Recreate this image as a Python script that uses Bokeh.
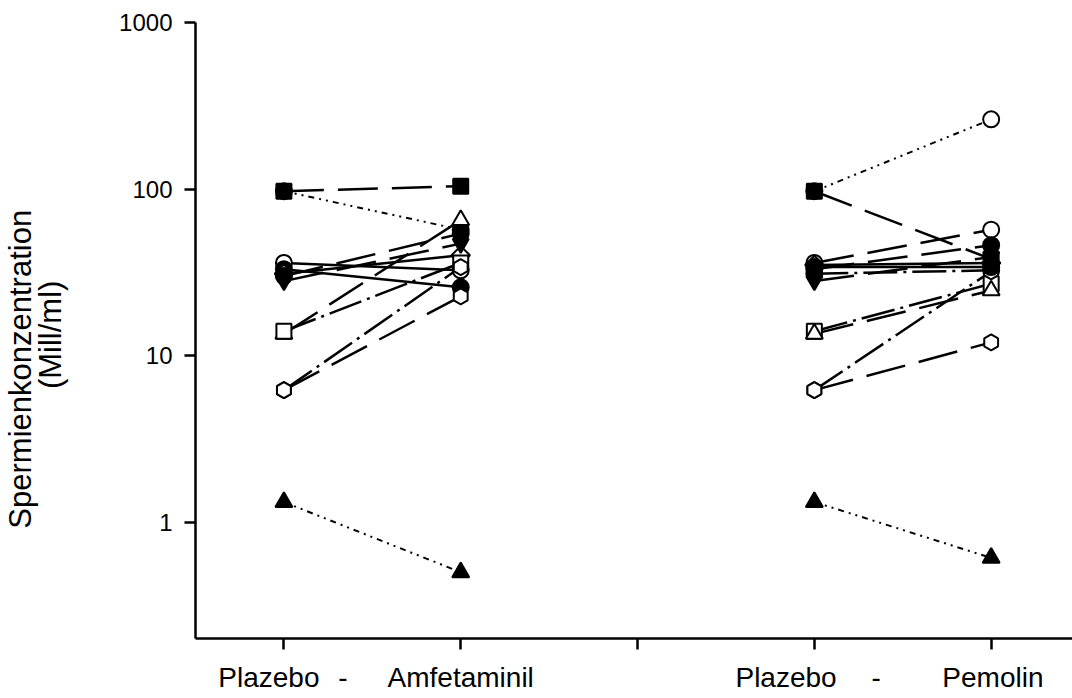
import math
from bokeh.plotting import figure
from bokeh.models import Range1d, FixedTicker, PrintfTickFormatter, LinearAxis
from bokeh.embed import file_html
from bokeh.resources import INLINE

# ---- data -----------------------------------------------------------
# Panel 1: Plazebo (x=1) vs Amfetaminil (x=2)
amf_plazebo = [97, 97, 36, 33, 31, 28, 30, 13.5, 14, 6.2, 6.2, 1.32]
amf_verum   = [104, 57, 32.5, 25.7, 40, 47, 54, 65, 36, 22.7, 34, 0.5]
amf_marker  = ["square", "circle", "circle", "circle", "diamond", "inverted_triangle",
               "circle", "triangle", "square", "hex", "hex", "triangle"]
amf_filled  = [True, True, False, True, False, True, True, False, False, False, False, True]
amf_style   = ["long", "dotted", "solid", "solid", "solid", "long",
               "long", "long", "dashdot", "long", "dashdot", "dotted"]

# Panel 2: Plazebo (x=4) vs Pemolin (x=5)
pem_plazebo = [97, 97, 36, 33, 35, 28, 31, 14, 13.5, 6.2, 6.2, 1.32, 34]
pem_verum   = [38, 262, 57, 46, 36, 39, 32.5, 27, 24.6, 12, 32, 0.61, 34]
pem_marker  = ["square", "circle", "circle", "circle", "diamond", "inverted_triangle",
               "circle", "square", "triangle", "hex", "hex", "triangle", "circle"]
pem_filled  = [True, False, False, True, False, True, True, False, False, False, False, True, True]
pem_style   = ["long", "dotted", "long", "long", "solid", "long",
               "dashdot", "dashdot", "long", "long", "dashdot", "dotted", "solid"]

group_x = [[1, 2], [4, 5]]
x_ticks = [1, 2, 3, 4, 5]
y_ticks = [1, 10, 100, 1000]
x_label_text = ["Plazebo", "-", "Amfetaminil", "Plazebo", "-", "Pemolin"]
x_label_pos = [0.915, 1.334, 2.0, 3.84, 4.35, 5.01]
NB = "\u00a0"
y_title = "Spermienkonzentration" + NB * 9 + "\n(Mill/ml)" + NB

DASH = {"solid": "solid", "long": "40 14", "dashdot": "34 6 3 6", "dotted": "6 5 2 5 2 5"}
SIZE = {"square": 15, "circle": 16, "diamond": 13, "inverted_triangle": 16,
        "triangle": 17, "hex": 16}
FONT = "Liberation Sans"

p = figure(width=1072, height=698, y_axis_type="log",
           x_range=Range1d(0.5, 5.46), y_range=Range1d(0.2, 1000),
           output_backend="svg", toolbar_location=None,
           min_border_left=195, min_border_right=0, min_border_top=22,
           min_border_bottom=60)
p.outline_line_color = None
p.xgrid.visible = False
p.ygrid.visible = False
p.background_fill_color = "white"
p.border_fill_color = "white"

for ax in (p.xaxis[0], p.yaxis[0]):
    ax.axis_line_width = 2.5
    ax.major_tick_line_width = 2.5
    ax.axis_line_color = "black"
    ax.major_tick_line_color = "black"
    ax.minor_tick_line_color = None
    ax.major_tick_in = 0
    ax.major_tick_out = 11

p.xaxis.ticker = FixedTicker(ticks=x_ticks)
p.xaxis.major_label_text_font_size = "0px"
p.xaxis.major_label_text_color = None
p.xaxis.major_label_standoff = 0

lab_axis = LinearAxis(ticker=FixedTicker(ticks=x_label_pos, minor_ticks=[]),
                      major_label_overrides={v: t for v, t in zip(x_label_pos, x_label_text)},
                      axis_line_color=None, major_tick_line_color=None,
                      minor_tick_line_color=None, major_tick_in=0, major_tick_out=0,
                      major_label_text_font=FONT, major_label_text_font_size="28px",
                      major_label_text_color="black", major_label_standoff=12)
p.add_layout(lab_axis, "below")

p.yaxis.ticker = FixedTicker(ticks=y_ticks, minor_ticks=[])
p.yaxis.formatter = PrintfTickFormatter(format="%d")
p.yaxis.major_label_text_font = FONT
p.yaxis.major_label_text_font_size = "24px"
p.yaxis.major_label_text_color = "black"
p.yaxis.major_label_standoff = 12
p.yaxis.axis_label = y_title
p.yaxis.axis_label_text_font = FONT
p.yaxis.axis_label_text_font_size = "31px"
p.yaxis.axis_label_text_font_style = "normal"
p.yaxis.axis_label_text_color = "black"
p.yaxis.axis_label_text_line_height = 0.85
p.yaxis.axis_label_standoff = 48


def draw(xs, pla, ver, markers, filled, styles):
    for a, b, st in zip(pla, ver, styles):
        p.line(xs, [a, b], line_color="black", line_width=2.5 if st != "dotted" else 2,
               line_dash=DASH[st])
    order = list(range(len(pla)))
    order.sort(key=lambda i: 1 if markers[i] == "square" and filled[i] else 0)
    for i in order:
        m = markers[i]
        kw = dict(size=SIZE[m], line_color="black", line_width=2,
                  fill_color="black" if filled[i] else "white")
        ang = 0.0
        mk = m
        if m == "diamond":
            mk = "square"
            ang = math.pi / 4
        elif m == "hex":
            ang = math.pi / 6
        p.scatter(xs, [pla[i], ver[i]], marker=mk, angle=ang, **kw)


draw(group_x[0], amf_plazebo, amf_verum, amf_marker, amf_filled, amf_style)
draw(group_x[1], pem_plazebo, pem_verum, pem_marker, pem_filled, pem_style)

open("out.html", "w").write(file_html(p, INLINE))
